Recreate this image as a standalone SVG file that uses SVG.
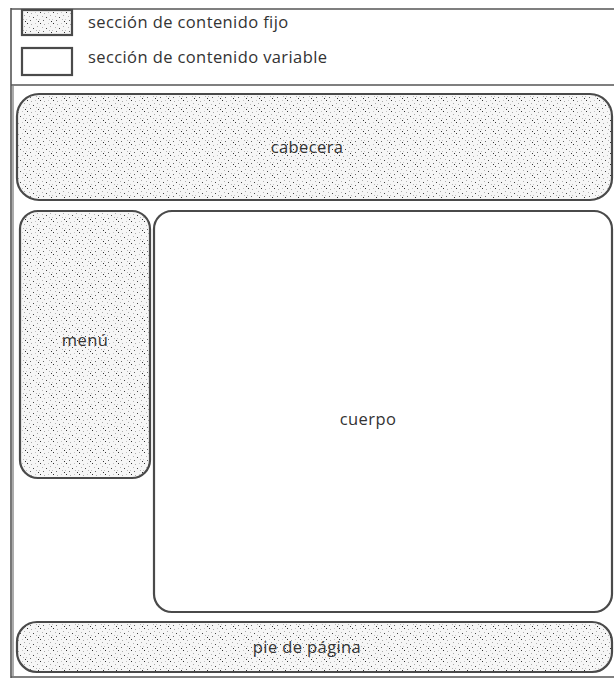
<svg xmlns="http://www.w3.org/2000/svg" width="614" height="680" viewBox="0 0 614 680">
<style>
.lbl{font-family:"Open Sans","Liberation Sans",sans-serif;font-size:16.5px;letter-spacing:0.4px;fill:#333}
.fixed{fill:url(#stip);stroke:#4a4a4a;stroke-width:2.2}
.var{fill:#fff;stroke:#4a4a4a;stroke-width:2.2}
.frame{stroke:#555;stroke-width:1.6;fill:none}
</style>
<defs>
<pattern id="stip" width="13" height="11" patternUnits="userSpaceOnUse">
<rect width="13" height="11" fill="#f6f6f6"/>
<rect x="1" y="1" width="1" height="1" fill="#333"/>
<rect x="5" y="2" width="1" height="1" fill="#aaa"/>
<rect x="9" y="1" width="1" height="1" fill="#c4c4c4"/>
<rect x="3" y="5" width="1" height="1" fill="#b4b4b4"/>
<rect x="7" y="6" width="1" height="1" fill="#444"/>
<rect x="11" y="4" width="1" height="1" fill="#aaa"/>
<rect x="0" y="8" width="1" height="1" fill="#c4c4c4"/>
<rect x="4" y="9" width="1" height="1" fill="#666"/>
<rect x="10" y="8" width="1" height="1" fill="#b4b4b4"/>
<rect x="12" y="10" width="1" height="1" fill="#333"/>
</pattern>
</defs>
<rect width="614" height="680" fill="#fff"/>
<g id="frame">
<line class="frame" x1="11" y1="9" x2="614" y2="9"/>
<line class="frame" x1="11" y1="85" x2="614" y2="85"/>
<line class="frame" x1="11" y1="677" x2="614" y2="677"/>
<line class="frame" x1="11" y1="8" x2="11" y2="678"/>
<line x1="13" y1="86" x2="13" y2="676" stroke="#888" stroke-width="1.4"/>
</g>
<g id="legend">
<rect class="fixed" x="22" y="10" width="50" height="25"/>
<text class="lbl" x="88" y="28">sección de contenido fijo</text>
<rect class="var" x="22" y="48" width="50" height="27"/>
<text class="lbl" x="88" y="63">sección de contenido variable</text>
</g>
<g id="cabecera">
<rect class="fixed" x="17" y="94" width="595" height="106" rx="22"/>
<text class="lbl" x="307" y="153" text-anchor="middle">cabecera</text>
</g>
<g id="menu">
<rect class="fixed" x="20" y="211" width="130" height="267" rx="18"/>
<text class="lbl" x="85" y="346" text-anchor="middle">menú</text>
</g>
<g id="cuerpo">
<rect class="var" x="154" y="211" width="458" height="401" rx="18"/>
<text class="lbl" x="368" y="425" text-anchor="middle">cuerpo</text>
</g>
<g id="pie">
<rect class="fixed" x="17" y="622" width="595" height="50" rx="20"/>
<text class="lbl" x="307" y="653" text-anchor="middle">pie de página</text>
</g>
<g id="connectors"></g>
</svg>
